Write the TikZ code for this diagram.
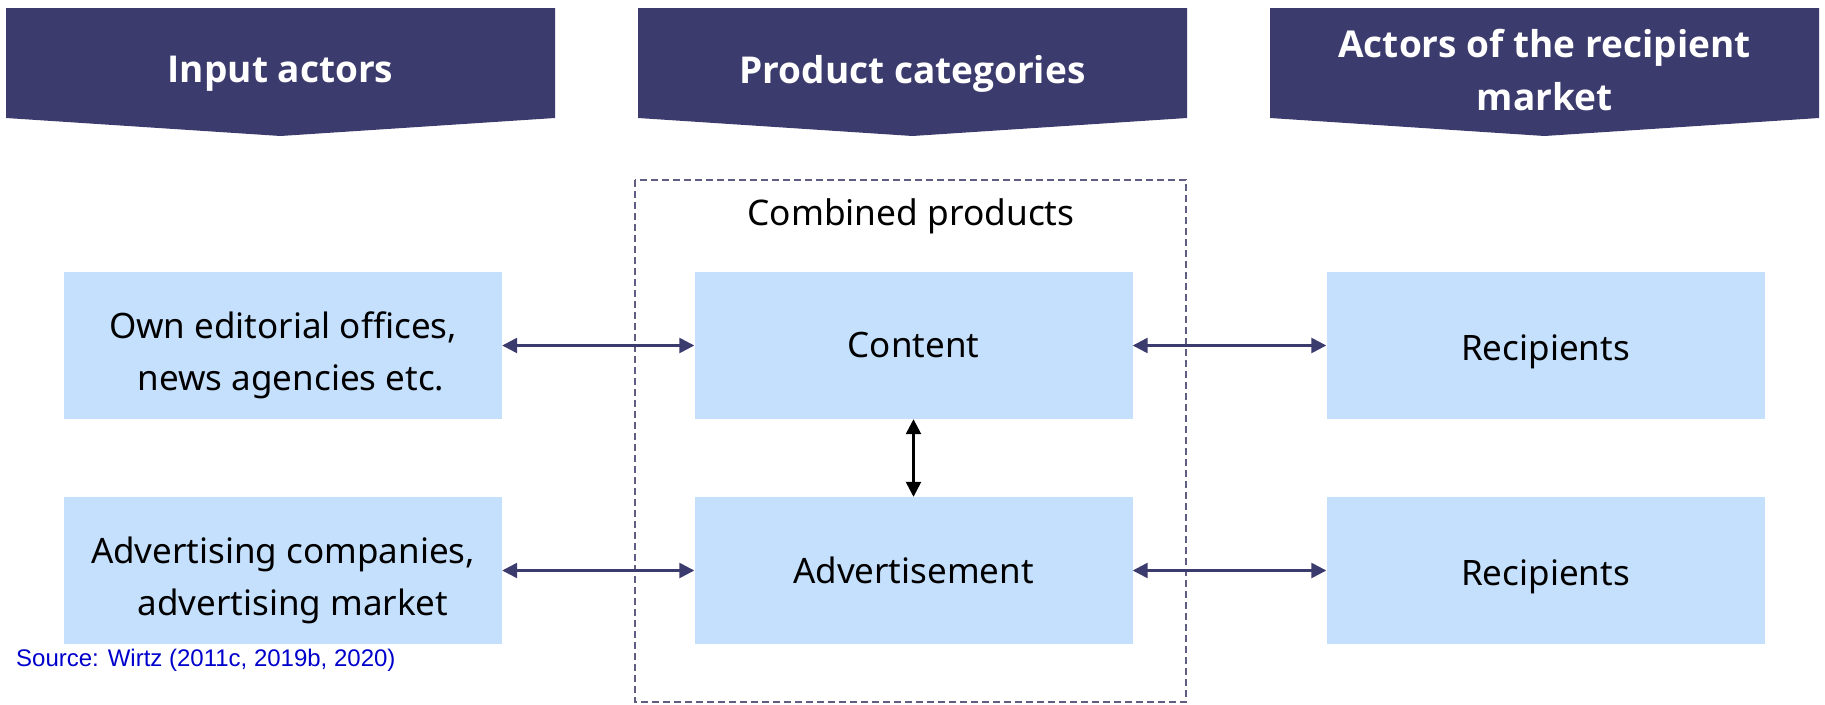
\documentclass[tikz,border=0pt]{standalone}
\usepackage{fontspec}
\setmainfont{Noto Sans}
\newfontfamily\hdrfont{Open Sans}
\newfontfamily\srcfont{Liberation Sans}
\usetikzlibrary{arrows.meta}
\definecolor{navy}{RGB}{60,59,110}
\definecolor{lblue}{RGB}{197,224,253}
\definecolor{dashc}{RGB}{95,93,130}
\definecolor{srcblue}{RGB}{0,0,204}
\newcommand{\twoline}[3]{\raisebox{-9pt}[\height][\depth]{\begin{tabular}{@{}c@{}}#1\\\hspace*{#3}#2\end{tabular}}}
\begin{document}
\begin{tikzpicture}[x=1pt,y=-1pt,
 hdrtext/.style={text=white,font=\hdrfont\fontsize{37}{53}\selectfont\bfseries,align=center,inner sep=0pt},
 box/.style={fill=lblue,minimum width=438pt,minimum height=147pt,inner sep=0pt,align=center,font=\fontsize{35}{52}\selectfont},
 conn/.style={draw=navy,line width=2.5pt,{Triangle[length=15pt,width=15pt]}-{Triangle[length=15pt,width=15pt]}},
 vconn/.style={draw=black,line width=2.5pt,{Triangle[length=15pt,width=15pt]}-{Triangle[length=15pt,width=15pt]}},
]
\useasboundingbox (0,0) rectangle (1825,704);
% headers
\fill[navy] (6,8) -- (555,8) -- (555,118) -- (280.5,136) -- (6,118) -- cycle;
\fill[navy] (638,8) -- (1187,8) -- (1187,118) -- (912.5,136) -- (638,118) -- cycle;
\fill[navy] (1270,8) -- (1819,8) -- (1819,118) -- (1544.5,136) -- (1270,118) -- cycle;
\node[hdrtext] (h1) at (280.5,74) {Input actors};
\node[hdrtext] (h2) at (912.5,74) {Product categories};
\node[hdrtext] (h3) at (1544.5,70) {Actors of the recipient\\market};
% dashed frame
\draw[dashc,line width=1.3pt,dash pattern=on 7pt off 4pt] (635,180) rectangle (1186,702);
\node[font=\fontsize{35.3}{40}\selectfont] (comb) at (911,216) {Combined products};
% boxes
\node[box] (l1) at (283,345.5) {\twoline{Own editorial offices,}{news agencies etc.}{16pt}};
\node[box] (l2) at (283,570.5) {\twoline{Advertising companies,}{advertising market}{20pt}};
\node[box] (m1) at (913.5,345.5) {Content};
\node[box] (m2) at (913.5,570.5) {Advertisement};
\node[box] (r1) at (1545.5,345.5) {\raisebox{-6pt}[\height][\depth]{Recipients}};
\node[box] (r2) at (1545.5,570.5) {\raisebox{-6pt}[\height][\depth]{Recipients}};
% connectors
\draw[conn] (l1) -- (m1);
\draw[conn] (l2) -- (m2);
\draw[conn] (m1) -- (r1);
\draw[conn] (m2) -- (r2);
\draw[vconn] (m1) -- (m2);
% source
\node[anchor=west,inner sep=0pt,text=srcblue,font=\srcfont\fontsize{24}{28}\selectfont] (src) at (16,660) {Source: Wirtz (2011c, 2019b, 2020)};
\end{tikzpicture}
\end{document}
